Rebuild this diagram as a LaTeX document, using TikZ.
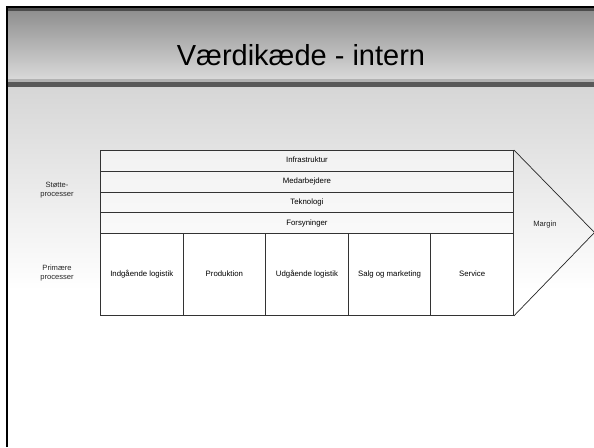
\documentclass[tikz,border=0pt]{standalone}
\usepackage{fontspec}
\setmainfont{Liberation Sans}
\begin{document}
\begin{tikzpicture}[x=1pt,y=-1pt,
  rowbox/.style={draw=black!80, line width=0.9pt, fill=white, fill opacity=0.55, text opacity=1,
     minimum width=413pt, minimum height=20.75pt, inner sep=0pt, anchor=north west,
     text height=6pt, text depth=1.8pt, font=\fontsize{7.8}{9}\selectfont},
  colbox/.style={draw=black!80, line width=0.9pt, fill=white, minimum width=82.6pt, minimum height=82pt,
     inner sep=0pt, anchor=north west, text height=6pt, text depth=1.8pt, font=\fontsize{7.8}{9}\selectfont},
  sidelbl/.style={align=center, font=\fontsize{7.6}{9.5}\selectfont, text=black!85}]
\useasboundingbox (0,0) rectangle (594,447);
\fill[white] (0,0) rectangle (594,447);
% body gradient
\shade[top color=black!16, bottom color=white] (7,87) rectangle (594,290);
% title band
\shade[top color=black!45, bottom color=black!15] (7,8) rectangle (594,79);
\fill[black!70] (7,8) rectangle (594,11);
\fill[black!30] (7,79) rectangle (594,81.5);
\fill[black!65] (7,81.5) rectangle (594,86.5);
% frame lines
\draw[line width=2.5pt] (7,447) -- (7,7) -- (594,7);
% title
\node (title) at (301,55) {\fontsize{29}{32}\selectfont Værdikæde - intern};
% support rows
\node[rowbox] (infra) at (100,150) {Infrastruktur};
\node[rowbox] (medarb) at (100,170.75) {Medarbejdere};
\node[rowbox] (tekno) at (100,191.5) {Teknologi};
\node[rowbox] (forsy) at (100,212.25) {Forsyninger};
% primary columns
\node[colbox] (ind) at (100,233) {Indgående logistik};
\node[colbox] (prod) at (182.6,233) {Produktion};
\node[colbox] (udg) at (265.2,233) {Udgående logistik};
\node[colbox] (salg) at (347.8,233) {Salg og marketing};
\node[colbox] (serv) at (430.4,233) {Service};
% margin arrow
\coordinate (tip) at (594.5,232.5);
\draw[black!85, line width=0.7pt] (infra.north east) -- (tip) -- (serv.south east);
\node[sidelbl] (margin) at (545,225) {Margin};
% side labels
\node[sidelbl] (stotte) at (57,190) {Støtte-\\processer};
\node[sidelbl] (primaere) at (57,273) {Primære\\processer};
\end{tikzpicture}
\end{document}
